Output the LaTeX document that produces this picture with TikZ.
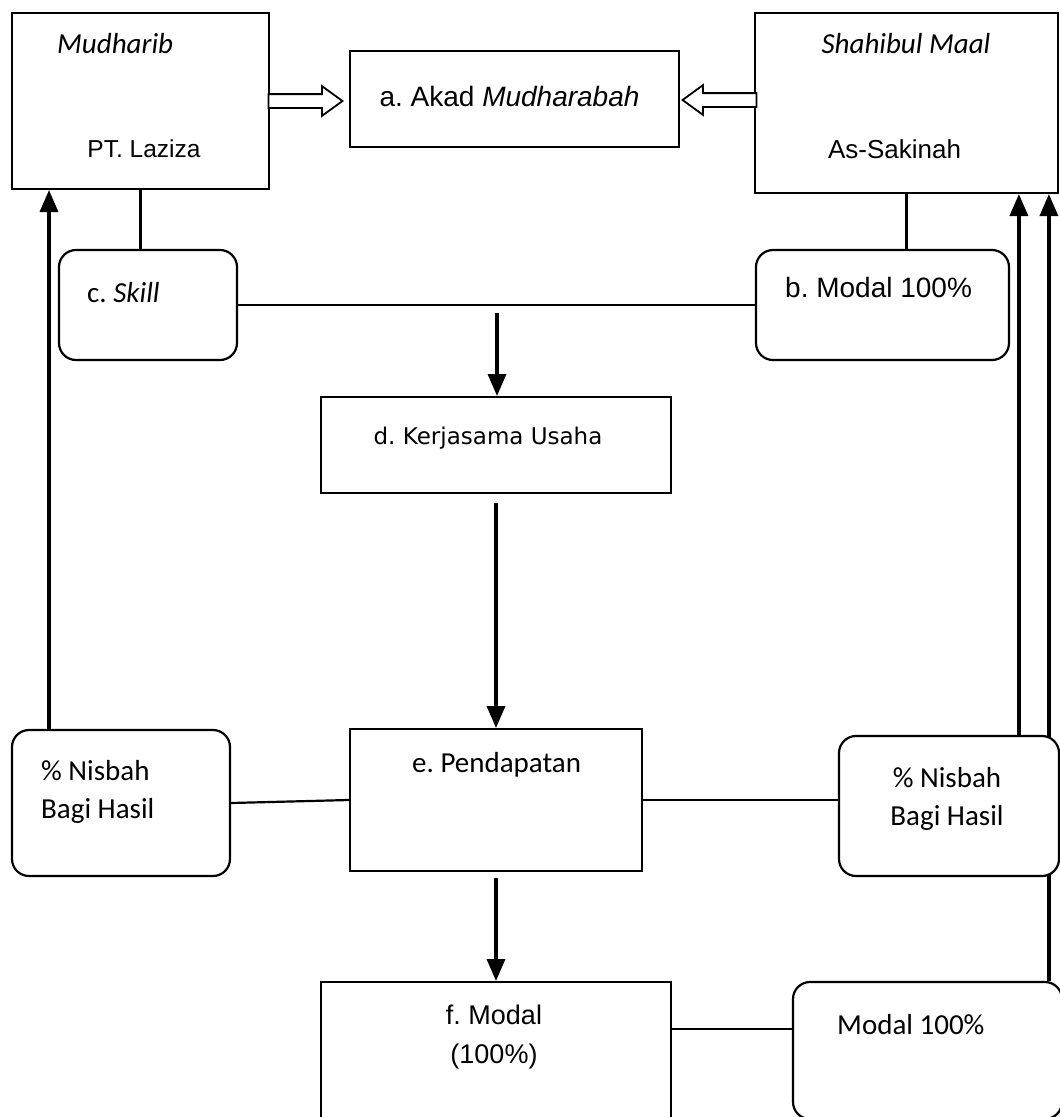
\documentclass[tikz,border=0pt]{standalone}
\usepackage{fontspec}
\setmainfont{Liberation Sans}
\newfontfamily\calibri{Carlito}
\newfontfamily\segoe{DejaVu Sans}
\usetikzlibrary{arrows.meta,positioning,calc,shapes.arrows}
\pgfdeclarelayer{background}
\pgfsetlayers{background,main}
\frenchspacing
\tikzset{
  box/.style={draw, line width=2pt, fill=white, inner sep=0pt},
  roundbox/.style={draw, line width=2.2pt, rounded corners=17pt, fill=white, inner sep=0pt},
  blockarrow/.style={single arrow, draw, line width=1.8pt, fill=white, inner xsep=0pt, inner ysep=6pt, minimum height=74pt, minimum width=29pt, single arrow head extend=8pt, single arrow tip angle=72},
  arrow/.style={-{Triangle[length=22pt,width=18pt]}, line width=3.4pt},
  link/.style={line width=2.2pt},
  armText/.style={font=\fontsize{26}{38}\selectfont, inner sep=0pt},
  caliText/.style={font=\calibri\fontsize{29}{38}\selectfont, inner sep=0pt, align=left},
  segoeText/.style={font=\segoe\fontsize{23}{28}\selectfont, inner sep=0pt}
}
\begin{document}
\begin{tikzpicture}[x=1pt, y=-1pt]
\useasboundingbox (0,0) rectangle (1060,1117);
\clip (0,0) rectangle (1060,1117);

% parties and contract
\node[box, minimum width=257pt, minimum height=176pt] (mud) at (140.5,101) {};
\node[box, minimum width=329pt, minimum height=96pt] (akad) at (514.5,99) {};
\node[box, minimum width=303pt, minimum height=180pt] (shah) at (906.5,103) {};
\node[blockarrow, anchor=tip] (akadL) at ([xshift=-5pt, yshift=-2pt]akad.west) {};
\node[blockarrow, shape border rotate=180, anchor=tip] (akadR) at ([xshift=1pt, yshift=-1pt]akad.east) {};

% contributions
\node[roundbox, minimum width=178pt, minimum height=110pt] (skill) at (148,305) {};
\node[roundbox, minimum width=253pt, minimum height=110pt] (modalb) at (882.5,305) {};

% flow
\node[box, minimum width=350pt, minimum height=96pt] (usaha) at (496,445) {};
\node[box, minimum width=292pt, minimum height=142pt] (income) at (496,800) {};
\node[box, minimum width=350pt, minimum height=156pt] (capital) at (496,1060) {};
\node[roundbox, minimum width=218pt, minimum height=146pt] (nisL) at (121,803) {};
\node[roundbox, minimum width=220pt, minimum height=140pt] (nisR) at (949,806) {};
\node[roundbox, minimum width=269pt, minimum height=137pt] (modalR) at (927.5,1050.5) {};

% texts
\node[caliText, anchor=west] (mudName) at (57,44) {\itshape Mudharib};
\node[armText, font=\fontsize{24.5}{30}\selectfont] (mudFirm) at (144,149) {PT. Laziza};
\node[armText, font=\fontsize{28}{32}\selectfont] (akadText) at (509.5,96) {a. Akad \textit{Mudharabah}};
\node[caliText] (shahName) at (906,44) {\itshape Shahibul Maal};
\node[armText] (shahFirm) at (894.5,149) {As-Sakinah};
\node[caliText, anchor=west] (skillText) at (87,293) {c. \textit{Skill}};
\node[armText, font=\fontsize{28}{32}\selectfont, anchor=west] (modalbText) at (785,287) {b. Modal 100\%};
\node[segoeText] (usahaText) at (488,438) {d. Kerjasama Usaha};
\node[caliText, anchor=west] (incomeText) at (412,765) {e. Pendapatan};
\node[caliText, anchor=west] (nisLText) at (41,792) {\% Nisbah\\Bagi Hasil};
\node[caliText, align=center] (nisRText) at (947,799) {\% Nisbah\\Bagi Hasil};
\node[armText, font=\fontsize{27}{39}\selectfont, align=center] (capitalText) at (494,1037) {f. Modal\\(100\%)};
\node[caliText, anchor=west] (modalRText) at (837,1025) {Modal 100\%};

% connectors
\coordinate (usahaIn) at (497,313);
\coordinate (nisROut) at ([xshift=181pt]nisR.north west);
\coordinate (modalROut) at ([xshift=257pt]modalR.north west);
\coordinate (mudIn) at ([xshift=38pt]mud.south west);
\coordinate (capitalOut) at ([yshift=-48pt]capital.north east);
\draw[link] (mud.south) -- (mud.south |- skill.north);
\draw[link] (shah.south) -- (shah.south |- modalb.north);
\draw[link] (skill.east) -- (modalb.west);
\draw[arrow] (usahaIn) -- (usahaIn |- usaha.north);
\draw[arrow, shorten <=9pt] (usaha.south) -- (income.north);
\draw[arrow, shorten <=6pt] (income.south) -- (capital.north);
\draw[link] (nisL.east) -- (income.west);
\draw[link] (income.east) -- (income.east -| nisR.west);
\draw[link] (capitalOut) -- (capitalOut -| modalR.west);
\draw[arrow] (mudIn |- nisL.north) -- (mudIn);
\draw[arrow] (nisROut) -- (nisROut |- shah.south);
\begin{pgfonlayer}{background}
\draw[arrow] (modalROut) -- (modalROut |- shah.south);
\end{pgfonlayer}
\end{tikzpicture}
\end{document}
